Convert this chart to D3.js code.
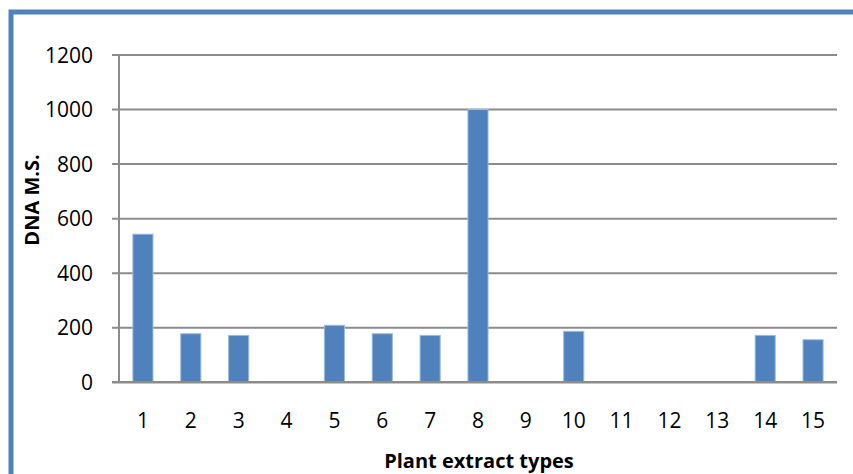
<!DOCTYPE html>
<html><head><meta charset="utf-8">
<script src="https://cdn.jsdelivr.net/npm/d3@7"></script>
<style>body{margin:0;background:#fff}svg{display:block}</style>
</head><body><svg id="c" width="853" height="474"></svg>
<script>
const categories = ["1","2","3","4","5","6","7","8","9","10","11","12","13","14","15"];
const values = [543, 178, 172, 0, 209, 178, 172, 1000, 0, 187, 0, 0, 0, 172, 156];
const yTicks = [0, 200, 400, 600, 800, 1000, 1200];
const xTitle = "Plant extract types";
const yTitle = "DNA M.S.";

const svg = d3.select("#c");
const font = "'Open Sans', sans-serif";
const plotLeft = 119, plotRight = 837, plotTop = 55, plotBottom = 382.3;

svg.append("rect").attr("x", 11).attr("y", 12).attr("width", 900).attr("height", 600)
  .attr("fill", "none").attr("stroke", "#4F81BD").attr("stroke-width", 5);

const x = d3.scaleBand().domain(categories).range([plotLeft, plotRight]).paddingInner(0.58).paddingOuter(0.29);
const y = d3.scaleLinear().domain([0, 1200]).range([plotBottom, plotTop]);

// gridlines
svg.append("g").selectAll("line").data(yTicks.filter(d => d > 0)).join("line")
  .attr("x1", plotLeft - 7).attr("x2", plotRight)
  .attr("y1", d => y(d)).attr("y2", d => y(d))
  .attr("stroke", "#8c8c8c").attr("stroke-width", 2);

// bars
svg.append("g").selectAll("rect").data(values.map((v, i) => ({c: categories[i], v}))).join("rect")
  .attr("x", d => x(d.c)).attr("width", x.bandwidth())
  .attr("y", d => y(d.v)).attr("height", d => y(0) - y(d.v))
  .attr("fill", "#4F81BD").attr("stroke", d => d.v > 0 ? "#9DBBE0" : "none").attr("stroke-width", 1);

// y axis line
svg.append("line").attr("x1", plotLeft).attr("x2", plotLeft).attr("y1", plotTop).attr("y2", plotBottom)
  .attr("stroke", "#8c8c8c").attr("stroke-width", 2);
// x axis line
svg.append("line").attr("x1", plotLeft - 7).attr("x2", plotRight).attr("y1", plotBottom).attr("y2", plotBottom)
  .attr("stroke", "#8c8c8c").attr("stroke-width", 2.5);

// y tick labels
svg.append("g").selectAll("text").data(yTicks).join("text")
  .attr("x", 93).attr("y", d => y(d)).attr("dy", "0.36em")
  .attr("text-anchor", "end").attr("font-family", font).attr("font-size", 21).attr("fill", "#000")
  .text(d => d);

// x tick labels
svg.append("g").selectAll("text").data(categories).join("text")
  .attr("x", d => x(d) + x.bandwidth() / 2).attr("y", 428)
  .attr("text-anchor", "middle").attr("font-family", font).attr("font-size", 21).attr("fill", "#000")
  .text(d => d);

svg.append("text").attr("x", 479).attr("y", 468).attr("text-anchor", "middle")
  .attr("font-family", font).attr("font-weight", "bold").attr("font-size", 20).text(xTitle);
svg.append("text").attr("transform", "translate(39,200) rotate(-90)").attr("text-anchor", "middle")
  .attr("font-family", font).attr("font-weight", "bold").attr("font-size", 20).text(yTitle);
</script></body></html>
